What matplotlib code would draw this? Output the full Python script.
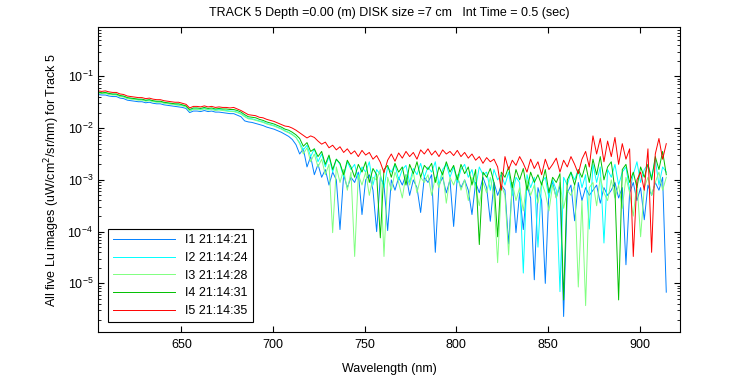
import numpy as np
import matplotlib
matplotlib.use("Agg")
import matplotlib.pyplot as plt
from matplotlib.ticker import LogLocator, NullFormatter

plt.rcParams['font.family'] = ['Liberation Sans', 'DejaVu Sans']

#-----Data (log10 of Lu, 2 nm steps)-----#
wavelength = np.arange(604.5, 916, 2.0)

labels = ["I1 21:14:21", "I2 21:14:24", "I3 21:14:28", "I4 21:14:31", "I5 21:14:35"]
colors = ["#0080ff", "#00ffff", "#80ff80", "#00c000", "#ff0000"]

logI1 = [
    -1.35, -1.36, -1.36, -1.38, -1.39, -1.39, -1.42, -1.43, -1.46, -1.47,
    -1.48, -1.49, -1.49, -1.51, -1.50, -1.52, -1.53, -1.53, -1.55, -1.56,
    -1.57, -1.58, -1.59, -1.60, -1.62, -1.70, -1.67, -1.67, -1.68, -1.66,
    -1.68, -1.67, -1.69, -1.69, -1.70, -1.71, -1.72, -1.72, -1.75, -1.78,
    -1.86, -1.88, -1.89, -1.91, -1.93, -1.95, -1.98, -2.00, -2.02, -2.05,
    -2.08, -2.12, -2.16, -2.22, -2.32, -2.50, -2.40, -2.75, -2.55, -2.90,
    -2.70, -2.95, -2.80, -3.10, -2.85, -3.00, -3.96, -2.90, -3.15, -2.95,
    -3.05, -2.85, -3.67, -3.00, -2.90, -3.20, -4.00, -2.95, -3.10, -3.98,
    -3.00, -3.20, -2.95, -3.10, -2.90, -3.30, -3.00, -3.15, -3.63, -2.95,
    -3.05, -2.90, -4.40, -3.10, -2.95, -3.25, -3.00, -3.90, -2.95, -3.15,
    -3.00, -3.20, -3.67, -3.05, -3.25, -2.95, -3.15, -3.80, -3.05, -3.30,
    -3.10, -3.20, -4.24, -3.05, -4.02, -3.25, -3.96, -3.10, -3.35, -4.93,
    -3.15, -3.40, -5.00, -3.20, -3.05, -3.35, -3.10, -5.64, -3.25, -3.10,
    -3.79, -3.05, -3.40, -3.15, -3.30, -3.20, -3.10, -3.45, -3.15, -3.30,
    -3.20, -3.05, -3.35, -3.15, -4.64, -3.25, -3.05, -3.40, -3.15, -3.77,
    -3.10, -3.30, -3.05, -3.20, -2.95, -5.17]

logI2 = [
    -1.31, -1.33, -1.32, -1.34, -1.35, -1.35, -1.38, -1.39, -1.42, -1.43,
    -1.44, -1.45, -1.45, -1.47, -1.46, -1.48, -1.49, -1.49, -1.51, -1.52,
    -1.53, -1.54, -1.55, -1.56, -1.58, -1.66, -1.63, -1.63, -1.64, -1.62,
    -1.64, -1.63, -1.65, -1.64, -1.65, -1.66, -1.67, -1.67, -1.69, -1.72,
    -1.77, -1.81, -1.82, -1.84, -1.86, -1.88, -1.91, -1.93, -1.95, -1.98,
    -2.01, -2.05, -2.08, -2.12, -2.18, -2.28, -2.42, -2.33, -2.55, -2.40,
    -2.65, -2.50, -2.75, -2.55, -2.85, -2.60, -2.70, -2.95, -2.65, -2.80,
    -2.70, -3.00, -2.75, -2.85, -2.65, -3.10, -2.80, -2.90, -3.15, -2.75,
    -2.85, -2.70, -3.00, -2.80, -2.72, -3.05, -2.78, -2.90, -2.68, -2.95,
    -2.75, -2.85, -2.65, -3.10, -2.80, -2.70, -2.95, -2.75, -3.05, -2.80,
    -2.70, -2.95, -2.80, -3.15, -2.75, -2.90, -2.85, -3.20, -2.80, -3.00,
    -2.90, -3.10, -2.85, -3.30, -2.95, -3.05, -4.80, -2.90, -3.15, -2.95,
    -4.30, -3.05, -2.95, -3.35, -3.00, -3.20, -5.16, -2.95, -3.10, -2.85,
    -3.00, -2.80, -3.15, -2.90, -3.95, -2.70, -3.05, -2.75, -4.22, -2.80,
    -2.95, -2.70, -3.10, -2.85, -2.75, -3.20, -2.90, -2.65, -3.05, -2.80,
    -2.70, -2.95, -2.60, -3.10, -2.75, -2.85]

logI3 = [
    -1.32, -1.33, -1.33, -1.35, -1.36, -1.36, -1.39, -1.40, -1.43, -1.44,
    -1.45, -1.46, -1.46, -1.48, -1.47, -1.49, -1.50, -1.50, -1.52, -1.53,
    -1.54, -1.55, -1.56, -1.57, -1.59, -1.67, -1.64, -1.64, -1.65, -1.63,
    -1.65, -1.64, -1.66, -1.65, -1.66, -1.67, -1.68, -1.68, -1.70, -1.73,
    -1.78, -1.82, -1.83, -1.85, -1.87, -1.89, -1.92, -1.94, -1.96, -1.99,
    -2.02, -2.06, -2.09, -2.13, -2.18, -2.30, -2.50, -2.38, -2.65, -2.50,
    -2.75, -2.60, -2.90, -2.70, -4.02, -2.75, -3.05, -2.80, -3.20, -2.85,
    -4.48, -2.90, -3.10, -2.85, -3.30, -2.95, -3.00, -2.80, -4.48, -2.95,
    -3.20, -2.85, -3.05, -3.35, -2.90, -3.10, -2.85, -3.25, -2.95, -3.05,
    -2.90, -3.30, -2.95, -3.15, -2.85, -3.45, -2.95, -3.10, -2.90, -3.20,
    -3.00, -3.40, -2.95, -3.15, -3.50, -3.05, -3.25, -2.95, -3.35, -4.60,
    -3.10, -3.30, -4.45, -3.05, -3.40, -3.15, -3.60, -3.00, -3.30, -3.10,
    -3.45, -3.05, -3.25, -3.60, -3.10, -3.35, -3.05, -3.55, -3.20, -3.30,
    -3.10, -5.07, -3.40, -5.43, -3.15, -3.05, -3.50, -2.95, -3.25, -3.40,
    -3.00, -3.35, -3.10, -3.55, -2.95, -3.25, -3.70, -3.05, -4.10, -3.15,
    -2.95, -3.30, -3.05, -2.85, -3.20, -2.95]

logI4 = [
    -1.30, -1.32, -1.31, -1.33, -1.34, -1.34, -1.37, -1.38, -1.41, -1.42,
    -1.43, -1.44, -1.44, -1.46, -1.45, -1.47, -1.48, -1.48, -1.50, -1.51,
    -1.52, -1.53, -1.53, -1.55, -1.57, -1.64, -1.61, -1.61, -1.62, -1.60,
    -1.62, -1.61, -1.63, -1.62, -1.63, -1.63, -1.64, -1.64, -1.66, -1.69,
    -1.74, -1.78, -1.79, -1.80, -1.83, -1.85, -1.88, -1.90, -1.92, -1.95,
    -1.98, -2.02, -2.04, -2.08, -2.13, -2.20, -2.35, -2.28, -2.45, -2.40,
    -2.55, -2.45, -2.70, -2.52, -2.80, -2.60, -2.68, -2.90, -2.62, -2.75,
    -2.95, -2.70, -2.85, -2.65, -3.05, -2.78, -2.90, -4.12, -2.80, -2.72,
    -2.95, -2.68, -2.85, -2.75, -3.10, -2.70, -2.88, -2.65, -2.95, -2.72,
    -2.80, -2.68, -3.05, -2.75, -2.90, -2.65, -2.85, -2.72, -3.00, -2.70,
    -2.88, -2.75, -3.10, -2.80, -4.25, -2.85, -2.95, -2.78, -3.05, -4.10,
    -2.85, -2.95, -2.75, -3.15, -2.80, -3.00, -2.78, -3.20, -2.85, -3.05,
    -2.90, -3.10, -2.80, -3.25, -2.95, -3.05, -2.88, -5.32, -3.00, -2.85,
    -3.10, -2.80, -2.95, -2.70, -3.05, -2.60, -2.90, -2.55, -3.00, -2.75,
    -2.65, -3.20, -5.32, -2.80, -2.70, -3.05, -2.85, -3.15, -2.75, -2.95,
    -2.70, -3.00, -2.55, -2.80, -2.45, -2.90]

logI5 = [
    -1.28, -1.29, -1.28, -1.30, -1.31, -1.31, -1.34, -1.35, -1.38, -1.39,
    -1.40, -1.41, -1.41, -1.43, -1.42, -1.44, -1.45, -1.45, -1.47, -1.48,
    -1.49, -1.50, -1.50, -1.52, -1.54, -1.61, -1.58, -1.58, -1.59, -1.57,
    -1.59, -1.58, -1.60, -1.59, -1.60, -1.60, -1.61, -1.60, -1.63, -1.66,
    -1.70, -1.74, -1.75, -1.76, -1.79, -1.80, -1.83, -1.85, -1.87, -1.90,
    -1.93, -1.96, -1.97, -2.00, -2.04, -2.09, -2.14, -2.19, -2.15, -2.18,
    -2.25, -2.31, -2.27, -2.38, -2.33, -2.42, -2.36, -2.47, -2.40, -2.50,
    -2.44, -2.55, -2.43, -2.52, -2.47, -2.60, -2.53, -2.66, -2.86, -2.62,
    -2.50, -2.64, -2.48, -2.58, -2.45, -2.55, -2.47, -2.60, -2.42, -2.50,
    -2.40, -2.52, -2.44, -2.55, -2.42, -2.50, -2.45, -2.53, -2.43, -2.55,
    -2.47, -2.58, -2.50, -2.62, -2.55, -2.68, -2.57, -2.65, -2.60, -2.75,
    -3.20, -2.55, -2.80, -2.62, -2.72, -2.55, -2.68, -2.85, -2.60, -2.78,
    -2.65, -2.90, -2.60, -2.80, -2.70, -2.58, -2.85, -2.62, -2.75, -2.55,
    -2.70, -2.88, -2.60, -2.45, -2.75, -2.15, -2.50, -2.20, -2.65, -2.25,
    -2.55, -2.18, -2.70, -2.30, -2.60, -2.40, -4.48, -3.00, -2.85, -3.20,
    -2.40, -4.40, -2.50, -2.20, -2.60, -2.30]

series = [logI1, logI2, logI3, logI4, logI5]


#-----Plot-----#
fig = plt.figure(figsize=(7.5, 3.75), dpi=100)
ax = fig.add_axes([0.1307, 0.1147, 0.7760, 0.8133])

for logs, color, label in zip(series, colors, labels):
    ax.plot(wavelength, 10.0 ** np.array(logs), color=color, lw=0.7, label=label)

ax.set_yscale("log")
ax.set_xlim(604.5, 922)
ax.set_ylim(1.15e-6, 0.9)

ax.set_xticks([650, 700, 750, 800, 850, 900])
ax.set_yticks([1e-5, 1e-4, 1e-3, 1e-2, 1e-1])
ax.yaxis.set_minor_locator(LogLocator(base=10, subs=np.arange(2, 10), numticks=20))
ax.yaxis.set_minor_formatter(NullFormatter())

ax.tick_params(which="both", direction="in", top=True, right=True, labelsize=9)
ax.tick_params(which="major", length=4)
ax.tick_params(which="minor", length=2)
ax.tick_params(axis="x", pad=5)

ax.set_title("TRACK 5 Depth =0.00 (m) DISK size =7 cm   Int Time = 0.5 (sec)", fontsize=9, pad=8)
ax.set_xlabel("Wavelength (nm)", fontsize=9, labelpad=9)
ax.set_ylabel("All five Lu images (uW/cm$^2$/sr/nm) for Track 5", fontsize=9)

leg = ax.legend(loc="lower left", bbox_to_anchor=(0.017, 0.033), borderaxespad=0,
                fancybox=False, edgecolor="black", framealpha=1, fontsize=9,
                handlelength=5, labelspacing=0.45)
leg.get_frame().set_linewidth(0.8)

fig.savefig("out.png", dpi=100)
